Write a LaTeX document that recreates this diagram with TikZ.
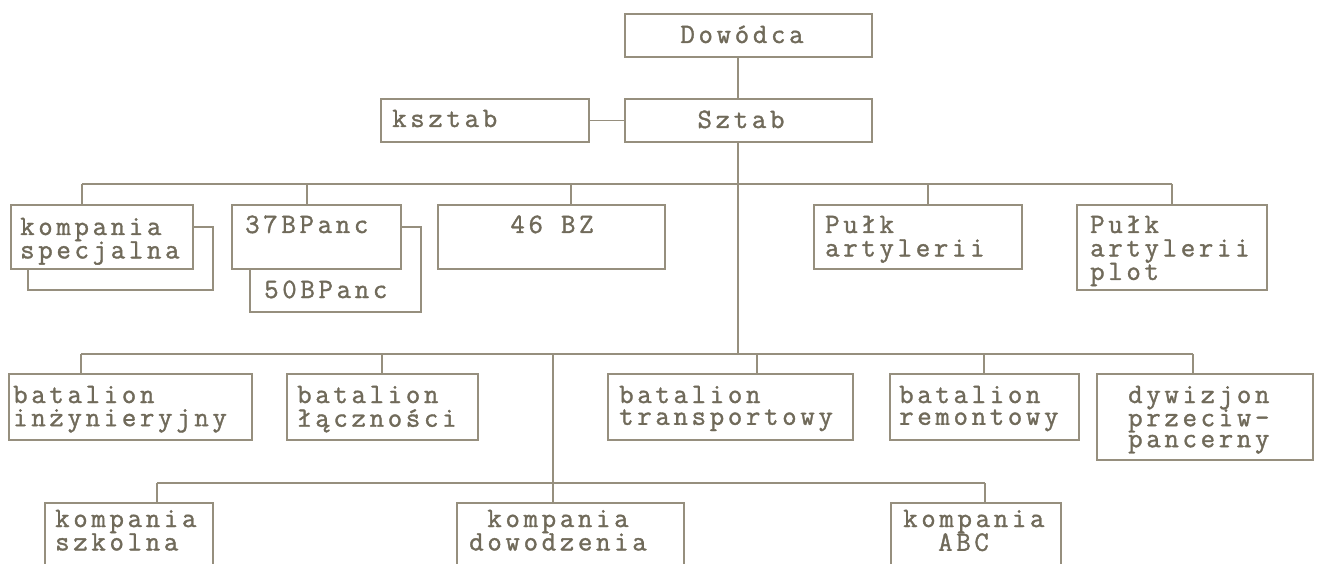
\documentclass[tikz,border=0pt]{standalone}
\usepackage{fontspec}
\newfontfamily\dmfam[LetterSpace=13.2,FakeBold=1.3]{Latin Modern Mono}
\definecolor{ink}{RGB}{112,106,90}
\definecolor{rulec}{RGB}{150,143,126}
\newcommand{\dm}{\dmfam\fontsize{28}{21}\selectfont}
\newcommand{\bx}[5]{\node[box,minimum width={#4-#2},minimum height={#5-#3}] (#1) at (#2,#3) {};}
\newcommand{\lns}[1]{\begin{tabular}[t]{@{}l@{}}#1\end{tabular}}
\newcommand{\lnc}[1]{\begin{tabular}[t]{@{}c@{}}#1\end{tabular}}
\tikzset{
  box/.style={draw=rulec,fill=white,line width=1.1pt,inner sep=0pt,outer sep=0pt,anchor=north west},
  txt/.style={text=ink,inner sep=0pt,font=\dm},
  conn/.style={draw=rulec,line width=1.1pt}
}
\begin{document}
\begin{tikzpicture}[x=1pt,y=-1pt]
\useasboundingbox[fill=white] (0,0) rectangle (1317,564);
\clip (0,0) rectangle (1317,564);
% boxes
\bx{dow}{625}{14}{872}{57}
\bx{sz}{625}{99}{872}{142}
\bx{ksz}{381}{99}{589}{142}
\bx{ksp2}{28}{227}{213}{290}
\bx{ksp}{11}{205}{193}{269}
\bx{b50}{250}{227}{421}{312}
\bx{b37}{232}{205}{401}{269}
\bx{bz}{438}{205}{665}{269}
\bx{pa}{814}{205}{1022}{269}
\bx{pp}{1077}{205}{1267}{290}
\bx{bi}{9}{374}{252}{440}
\bx{bl}{287}{374}{478}{440}
\bx{bt}{608}{374}{853}{440}
\bx{br}{890}{374}{1079}{440}
\bx{dp}{1097}{374}{1313}{460}
\bx{kszk}{45}{503}{213}{600}
\bx{kd}{457}{503}{684}{600}
\bx{kabc}{891}{503}{1061}{600}
% texts
\node[txt,anchor=base] (dow-t) at (742,43) {Dowódca};
\node[txt,anchor=base] (sz-t) at (741,128) {Sztab};
\node[txt,anchor=base west] (ksz-t) at (392,127) {ksztab};
\node[txt,anchor=base west] (ksp-t) at (20,235) {\lns{kompania\\specjalna}};
\node[txt,anchor=base west] (b50-t) at (264,298) {50BPanc};
\node[txt,anchor=base west] (b37-t) at (245,233) {37BPanc};
\node[txt,anchor=base] (bz-t) at (552,233) {46 BZ};
\node[txt,anchor=base west] (pa-t) at (825,233) {\lns{Pułk\\artylerii}};
\node[txt,anchor=base west] (pp-t) at (1090,233) {\lns{Pułk\\artylerii\\plot}};
\node[txt,anchor=base west] (bi-t) at (13,403) {\lns{batalion\\inżynieryjny}};
\node[txt,anchor=base west] (bl-t) at (297,403) {\lns{batalion\\łączności}};
\node[txt,anchor=base west] (bt-t) at (619,403) {\lns{batalion\\transportowy}};
\node[txt,anchor=base west] (br-t) at (899,403) {\lns{batalion\\remontowy}};
\node[txt,anchor=base west] (dp-t) at (1128,403) {\lns{dywizjon\\przeciw-\\pancerny}};
\node[txt,anchor=base west] (kszk-t) at (55,527) {\lns{kompania\\szkolna}};
\node[txt,anchor=base] (kd-t) at (558,527) {\lnc{kompania\\dowodzenia}};
\node[txt,anchor=base west] (kabc-t) at (903,527) {\lns{kompania\\\hspace*{35pt}ABC}};
% junction coordinates
\coordinate (jt) at (738,184);
\coordinate (jm) at (738,354);
\coordinate (t1) at (82,184);
\coordinate (t2) at (307,184);
\coordinate (t3) at (571,184);
\coordinate (t4) at (928,184);
\coordinate (t5) at (1172,184);
\coordinate (m1) at (81,354);
\coordinate (m2) at (382,354);
\coordinate (m3) at (553,354);
\coordinate (m4) at (757,354);
\coordinate (m5) at (984,354);
\coordinate (m6) at (1193,354);
\coordinate (u1) at (157,483);
\coordinate (u3) at (985,483);
% connectors
\draw[conn] (dow.south -| jt) -- (sz.north -| jt);
\draw[conn] (ksz.east) -- (sz.west);
\draw[conn] (sz.south -| jt) -- (jm);
\draw[conn] (t1) -- (t5);
\draw[conn] (t1) -- (t1 |- ksp.north);
\draw[conn] (t2) -- (t2 |- b37.north);
\draw[conn] (t3) -- (t3 |- bz.north);
\draw[conn] (t4) -- (t4 |- pa.north);
\draw[conn] (t5) -- (t5 |- pp.north);
\draw[conn] (m1) -- (m6);
\draw[conn] (m1) -- (m1 |- bi.north);
\draw[conn] (m2) -- (m2 |- bl.north);
\draw[conn] (m4) -- (m4 |- bt.north);
\draw[conn] (m5) -- (m5 |- br.north);
\draw[conn] (m6) -- (m6 |- dp.north);
\draw[conn] (m3) -- (m3 |- kd.north);
\draw[conn] (u1) -- (u3);
\draw[conn] (u1) -- (u1 |- kszk.north);
\draw[conn] (u3) -- (u3 |- kabc.north);
\end{tikzpicture}
\end{document}
